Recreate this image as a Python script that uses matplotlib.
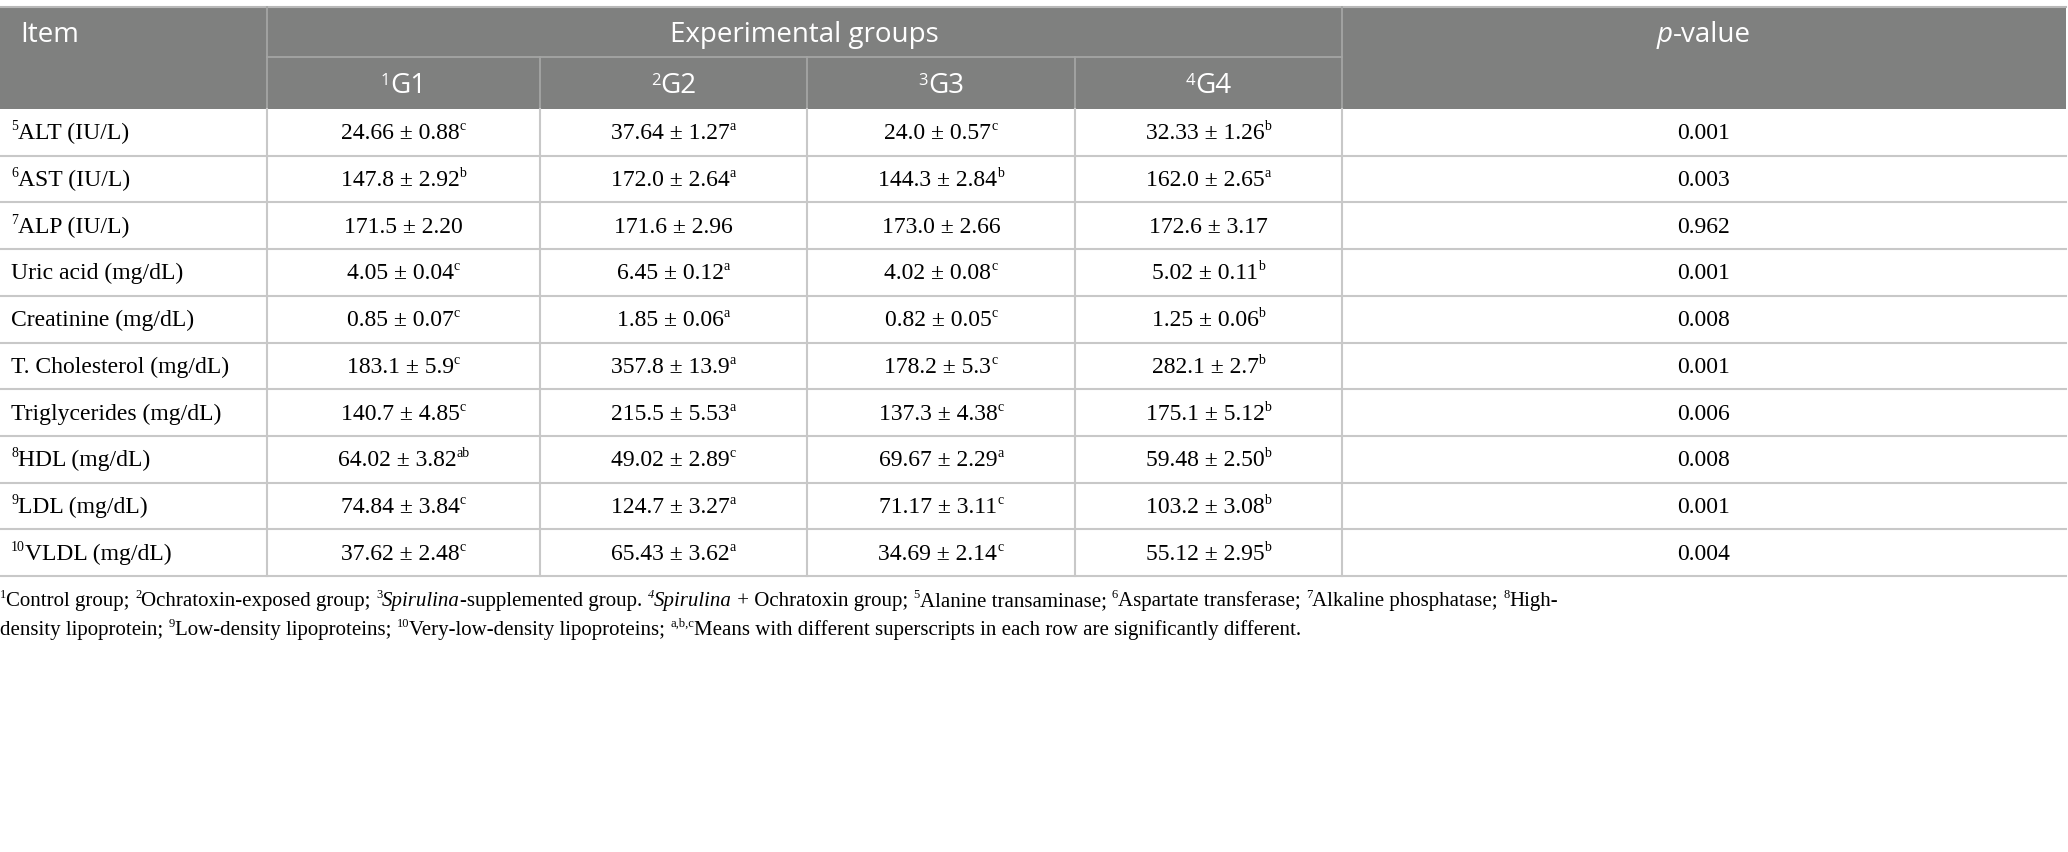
import matplotlib
matplotlib.use("Agg")
import matplotlib.pyplot as plt
from matplotlib.patches import Rectangle

# ---- table content -------------------------------------------------------
items = ["ALT (IU/L)", "AST (IU/L)", "ALP (IU/L)", "Uric acid (mg/dL)",
         "Creatinine (mg/dL)", "T. Cholesterol (mg/dL)", "Triglycerides (mg/dL)",
         "HDL (mg/dL)", "LDL (mg/dL)", "VLDL (mg/dL)"]
item_refs = ["5", "6", "7", "", "", "", "", "8", "9", "10"]

groups = ["G1", "G2", "G3", "G4"]
group_refs = ["1", "2", "3", "4"]

g1 = ["24.66 ± 0.88", "147.8 ± 2.92", "171.5 ± 2.20", "4.05 ± 0.04", "0.85 ± 0.07",
      "183.1 ± 5.9", "140.7 ± 4.85", "64.02 ± 3.82", "74.84 ± 3.84", "37.62 ± 2.48"]
g1_sig = ["c", "b", "", "c", "c", "c", "c", "ab", "c", "c"]
g2 = ["37.64 ± 1.27", "172.0 ± 2.64", "171.6 ± 2.96", "6.45 ± 0.12", "1.85 ± 0.06",
      "357.8 ± 13.9", "215.5 ± 5.53", "49.02 ± 2.89", "124.7 ± 3.27", "65.43 ± 3.62"]
g2_sig = ["a", "a", "", "a", "a", "a", "a", "c", "a", "a"]
g3 = ["24.0 ± 0.57", "144.3 ± 2.84", "173.0 ± 2.66", "4.02 ± 0.08", "0.82 ± 0.05",
      "178.2 ± 5.3", "137.3 ± 4.38", "69.67 ± 2.29", "71.17 ± 3.11", "34.69 ± 2.14"]
g3_sig = ["c", "b", "", "c", "c", "c", "c", "a", "c", "c"]
g4 = ["32.33 ± 1.26", "162.0 ± 2.65", "172.6 ± 3.17", "5.02 ± 0.11", "1.25 ± 0.06",
      "282.1 ± 2.7", "175.1 ± 5.12", "59.48 ± 2.50", "103.2 ± 3.08", "55.12 ± 2.95"]
g4_sig = ["b", "a", "", "b", "b", "b", "b", "b", "b", "b"]
p_values = ["0.001", "0.003", "0.962", "0.001", "0.008",
            "0.001", "0.006", "0.008", "0.001", "0.004"]

footnote_1 = [("1", "sup"), ("Control group; ", "n"), ("2", "sup"),
              ("Ochratoxin-exposed group; ", "n"), ("3", "sup"), ("Spirulina", "i"),
              ("-supplemented group. ", "n"), ("4", "isup"), ("Spirulina", "i"),
              (" + Ochratoxin group; ", "n"), ("5", "sup"), ("Alanine transaminase; ", "n"),
              ("6", "sup"), ("Aspartate transferase; ", "n"), ("7", "sup"),
              ("Alkaline phosphatase; ", "n"), ("8", "sup"), ("High-", "n")]
footnote_2 = [("density lipoprotein; ", "n"), ("9", "sup"), ("Low-density lipoproteins; ", "n"),
              ("10", "sup"), ("Very-low-density lipoproteins; ", "n"), ("a,b,c", "sup"),
              ("Means with different superscripts in each row are significantly different.", "n")]

# ---- layout ---------------------------------------------------------------
W, H = 2068, 853
col_x = [0, 267, 540, 807, 1075, 1342, 2066]
head_top, head_mid, head_bot = 8, 58, 110
row_h = 46.7
HEAD_GRAY = "#7f807f"
HEAD_LINE = "#a4a5a4"
GRID = "#c8c8c8"
SERIF = "Liberation Serif"
SANS = "Open Sans"
BODY_PT = 17
SUP_PT = 10
FOOT_PT = 15
HEAD_PT = 20

fig = plt.figure(figsize=(W / 100, H / 100), dpi=100)
ax = fig.add_axes([0, 0, 1, 1])
ax.set_xlim(0, W)
ax.set_ylim(H, 0)
ax.axis("off")
renderer = fig.canvas.get_renderer()

_cache = {}


def seg_width(s, family, size, style):
    key = (s, family, size, style)
    if key not in _cache:
        def w(txt):
            t = ax.text(0, 0, txt, family=family, fontsize=size, style=style)
            bb = t.get_window_extent(renderer)
            t.remove()
            return bb.width
        _cache[key] = w("|" + s + "|") - w("||")
    return _cache[key]


def rich(x, y, segs, family, size, color="black", ha="left", sup_size=None, raise_px=9):
    sup_size = sup_size or SUP_PT
    parts = []
    for s, kind in segs:
        if kind in ("sup", "isup"):
            parts.append((s, sup_size, "italic" if kind == "isup" else "normal", raise_px))
        else:
            parts.append((s, size, "italic" if kind == "i" else "normal", 0))
    widths = [seg_width(s, family, sz, st) for s, sz, st, _ in parts]
    total = sum(widths)
    cx = x - total / 2 if ha == "center" else x
    for (s, sz, st, dy), wdt in zip(parts, widths):
        ax.text(cx, y - dy, s, family=family, fontsize=sz, style=st, color=color,
                ha="left", va="baseline")
        cx += wdt


# header background
ax.add_patch(Rectangle((0, head_top), col_x[-1], head_bot - head_top,
                       facecolor=HEAD_GRAY, edgecolor="none"))
ax.plot([0, col_x[-1]], [head_top - 0.5, head_top - 0.5], color="#b8b8b8", lw=1.5)
ax.plot([col_x[1], col_x[5]], [head_mid, head_mid], color=HEAD_LINE, lw=1.3)
for xv in (col_x[1], col_x[5]):
    ax.plot([xv, xv], [head_top, head_bot], color=HEAD_LINE, lw=1.3)
for xv in col_x[2:5]:
    ax.plot([xv, xv], [head_mid, head_bot], color=HEAD_LINE, lw=1.3)

rich(20, 42, [("Item", "n")], SANS, HEAD_PT, color="white")
rich((col_x[1] + col_x[5]) / 2, 42, [("Experimental groups", "n")], SANS, HEAD_PT,
     color="white", ha="center")
rich((col_x[5] + col_x[6]) / 2, 42, [("p", "i"), ("-value", "n")], SANS, HEAD_PT,
     color="white", ha="center")
for i, (g, r) in enumerate(zip(groups, group_refs)):
    rich((col_x[i + 1] + col_x[i + 2]) / 2, 93, [(r, "sup"), (g, "n")], SANS, HEAD_PT,
         color="white", ha="center", sup_size=12, raise_px=8)

# body grid
n = len(items)
row_edges = [head_bot + k * row_h for k in range(n + 1)]
for yv in row_edges[1:]:
    ax.plot([0, col_x[-1]], [yv, yv], color=GRID, lw=1.5)
for xv in col_x[1:-1]:
    ax.plot([xv, xv], [head_bot, row_edges[-1]], color=GRID, lw=1.5)

# body text
values = [g1, g2, g3, g4]
sigs = [g1_sig, g2_sig, g3_sig, g4_sig]
for r in range(n):
    base = (row_edges[r] + row_edges[r + 1]) / 2 + 6
    segs = ([(item_refs[r], "sup")] if item_refs[r] else []) + [(items[r], "n")]
    rich(11, base, segs, SERIF, BODY_PT)
    for c in range(4):
        segs = [(values[c][r], "n")]
        if sigs[c][r]:
            segs.append((sigs[c][r], "sup"))
        rich((col_x[c + 1] + col_x[c + 2]) / 2, base, segs, SERIF, BODY_PT, ha="center")
    rich((col_x[5] + col_x[6]) / 2, base, [(p_values[r], "n")], SERIF, BODY_PT, ha="center")

# footnotes
rich(0, 606, footnote_1, SERIF, FOOT_PT, sup_size=9, raise_px=8)
rich(0, 635, footnote_2, SERIF, FOOT_PT, sup_size=9, raise_px=8)

fig.savefig("out.png", dpi=100)
